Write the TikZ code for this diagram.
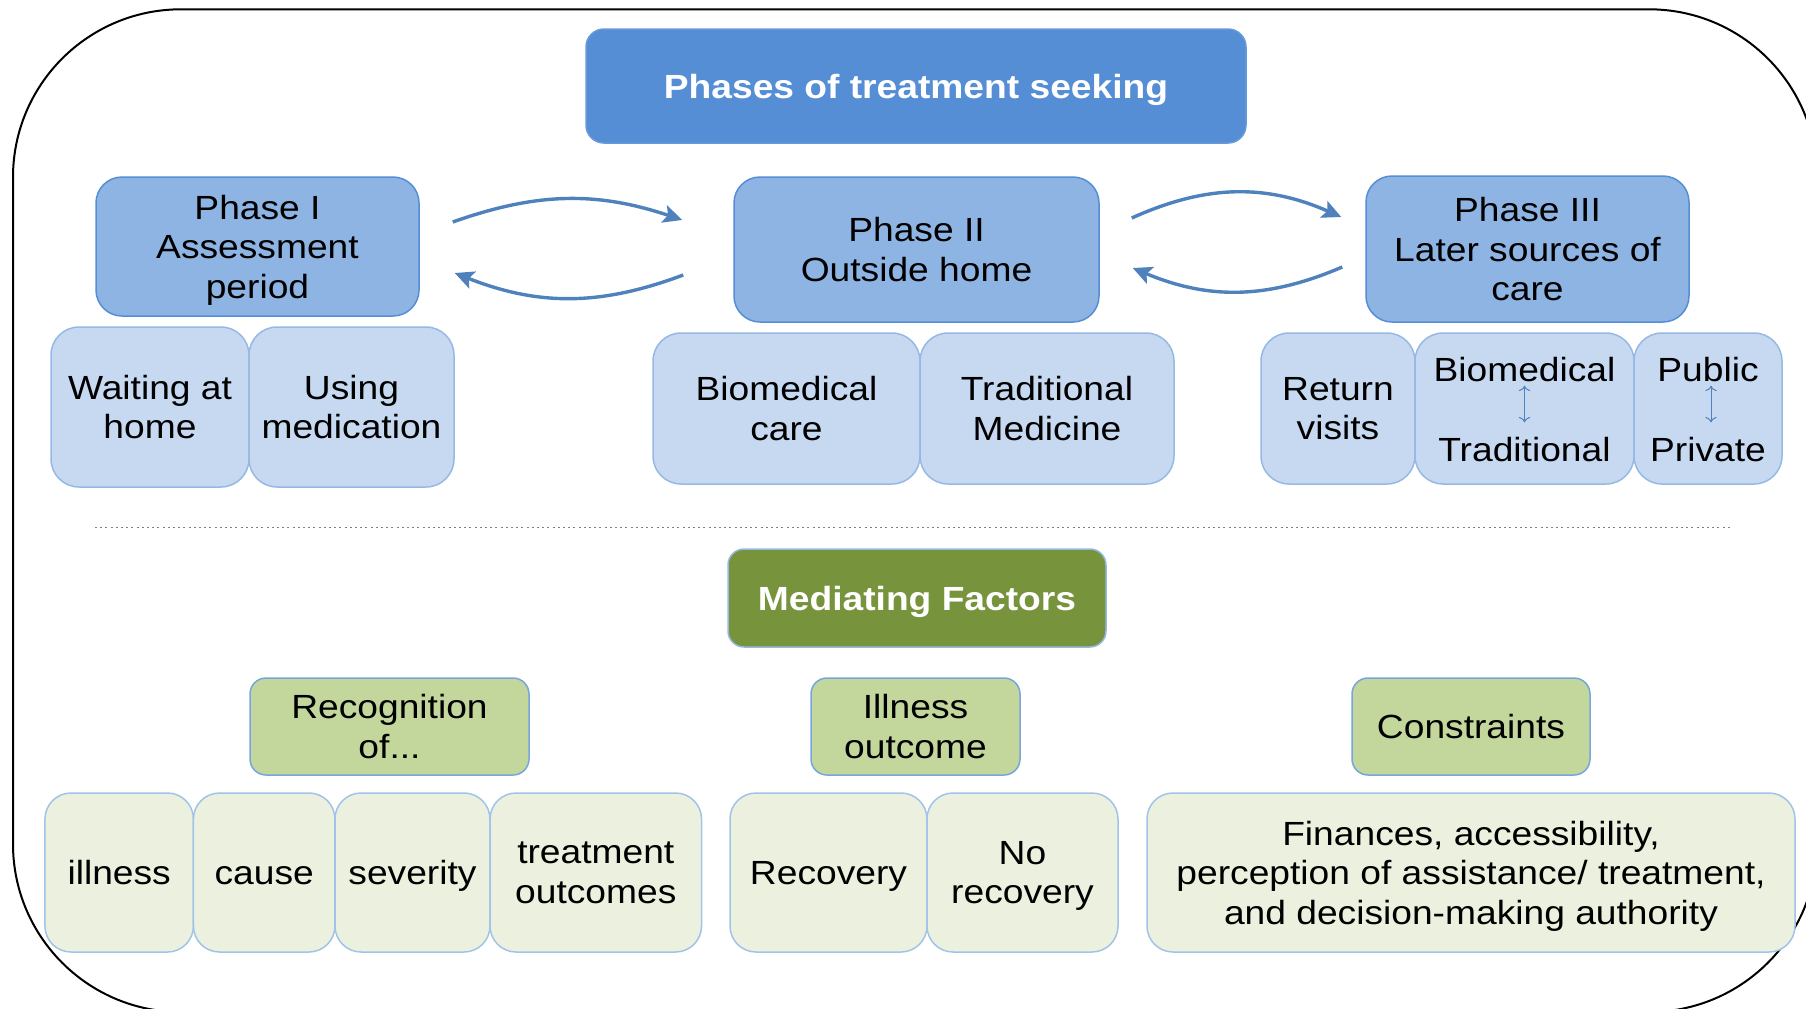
\documentclass[tikz,border=0pt]{standalone}
\usepackage{fontspec}
\setmainfont{Liberation Sans}[FakeStretch=1.11]
\usepackage{tikz}
\usetikzlibrary{arrows.meta}

\definecolor{headblue}{RGB}{85,142,213}
\definecolor{phaseblue}{RGB}{142,180,227}
\definecolor{optblue}{RGB}{198,217,241}
\definecolor{optedge}{RGB}{150,185,228}
\definecolor{arrowblue}{RGB}{79,129,189}
\definecolor{medgreen}{RGB}{119,147,60}
\definecolor{factorgreen}{RGB}{195,214,155}
\definecolor{itemgreen}{RGB}{235,241,222}
\definecolor{itemedge}{RGB}{160,195,232}

\begin{document}
\begin{tikzpicture}[x=1pt, y=-1pt,
  boxfont/.style={align=center, inner sep=2pt, font=\fontsize{16.75}{19.75}\selectfont},
  box/.style={boxfont, rectangle, line width=0.75pt, text depth=0pt,
    execute at begin node={\rule{0pt}{12pt}}},
  headbox/.style={box, rounded corners=9pt, fill=headblue, draw=headblue!90!white, text=white, font=\bfseries\fontsize{16.75}{19.75}\selectfont},
  phasebox/.style={box, rounded corners=13pt, fill=phaseblue, draw=headblue},
  optbox/.style={box, rounded corners=14pt, fill=optblue, draw=optedge},
  medbox/.style={box, rounded corners=8pt, fill=medgreen, draw=optedge, text=white, font=\bfseries\fontsize{16.75}{19.75}\selectfont},
  factorbox/.style={box, rounded corners=8pt, fill=factorgreen, draw=headblue!80!white},
  itembox/.style={box, rounded corners=13pt, fill=itemgreen, draw=itemedge},
  cyclearrow/.style={-{Stealth[length=9.5pt, width=9pt, inset=2pt]}, line width=1.7pt, draw=arrowblue},
  swaparrow/.style={<->, line width=0.5pt, draw=arrowblue, shorten >=5pt}]

\useasboundingbox (0,0) rectangle (903,504);
\draw[line width=1pt, rounded corners=84pt] (6.5,4.65) rectangle (908.5,506);

\node[headbox, minimum width=330pt, minimum height=57pt] (title) at (458,43) {Phases of treatment seeking};

\node[phasebox, minimum width=161.5pt, minimum height=69.5pt] (ph1) at (128.75,123.25) {Phase I\\Assessment\\period};
\node[phasebox, minimum width=182.5pt, minimum height=72.5pt] (ph2) at (458.25,124.75) {Phase II\\Outside home};
\node[phasebox, minimum width=161.5pt, minimum height=73pt] (ph3) at (763.75,124.5) {Phase III\\Later sources of\\care};

\draw[cyclearrow] ([xshift=16.5pt,yshift=12.25pt]ph1.east) to[bend left=19] ([xshift=-25.5pt,yshift=14.75pt]ph2.west);
\draw[cyclearrow] ([xshift=-25pt,yshift=-12.75pt]ph2.west) to[bend left=21] ([xshift=17.5pt,yshift=-13.25pt]ph1.east);
\draw[cyclearrow] ([xshift=16pt,yshift=15.75pt]ph2.east) to[bend left=24] ([xshift=-12pt,yshift=16pt]ph3.west);
\draw[cyclearrow] ([xshift=-11.5pt,yshift=-9pt]ph3.west) to[bend left=23] ([xshift=16.5pt,yshift=-9.25pt]ph2.east);

\node[optbox, minimum width=99pt, minimum height=80pt] (wait) at (75,203.5) {Waiting at\\home};
\node[optbox, minimum width=102.5pt, minimum height=80pt] (meds) at (175.75,203.5) {Using\\medication};
\node[optbox, minimum width=133.5pt, minimum height=75.5pt] (bio) at (393.25,204.25) {Biomedical\\care};
\node[optbox, minimum width=127pt, minimum height=75.5pt] (trad) at (523.5,204.25) {Traditional\\Medicine};
\node[optbox, minimum width=77pt, minimum height=75.5pt] (ret) at (669,204.25) {Return\\visits};
\node[optbox, minimum width=109.5pt, minimum height=75.5pt] (bt) at (762.25,204.25) {};
\node[optbox, minimum width=74pt, minimum height=75.5pt] (pp) at (854,204.25) {};

\node[boxfont, anchor=base] (btTop) at (762.25,190.5) {Biomedical};
\node[boxfont, anchor=base] (btBot) at (762.25,230.5) {Traditional};
\node[boxfont, anchor=base] (ppTop) at (854,190.5) {Public};
\node[boxfont, anchor=base] (ppBot) at (854,230.5) {Private};
\draw[swaparrow] (btTop.south) -- (btBot.north);
\draw[swaparrow] ([xshift=1.5pt]ppTop.south) -- ([xshift=1.5pt]ppBot.north);

\draw[gray, line width=0.75pt, dash pattern=on 1pt off 1.6pt] (47.5,263.75) -- (865,263.75);

\node[medbox, minimum width=189pt, minimum height=49pt] (med) at (458.5,299) {Mediating Factors};

\node[factorbox, minimum width=139.5pt, minimum height=48.5pt] (recog) at (194.75,363.25) {Recognition\\of...};
\node[factorbox, minimum width=104.5pt, minimum height=48.5pt] (outc) at (457.75,363.25) {Illness\\outcome};
\node[factorbox, minimum width=119pt, minimum height=48.5pt] (constr) at (735.5,363.25) {Constraints};

\node[itembox, minimum width=74.25pt, minimum height=79.5pt] (ill) at (59.6,436.25) {illness};
\node[itembox, minimum width=70.75pt, minimum height=79.5pt] (cause) at (132.1,436.25) {cause};
\node[itembox, minimum width=77.5pt, minimum height=79.5pt] (sev) at (206.25,436.25) {severity};
\node[itembox, minimum width=105.75pt, minimum height=79.5pt] (treat) at (297.9,436.25) {treatment\\outcomes};
\node[itembox, minimum width=98.5pt, minimum height=79.5pt] (recov) at (414.25,436.25) {Recovery};
\node[itembox, minimum width=95.5pt, minimum height=79.5pt] (norec) at (511.25,436.25) {No\\recovery};
\node[itembox, minimum width=324pt, minimum height=79.5pt] (fin) at (735.5,436.25) {Finances, accessibility,\\perception of assistance/ treatment,\\and decision-making authority};
\end{tikzpicture}
\end{document}
